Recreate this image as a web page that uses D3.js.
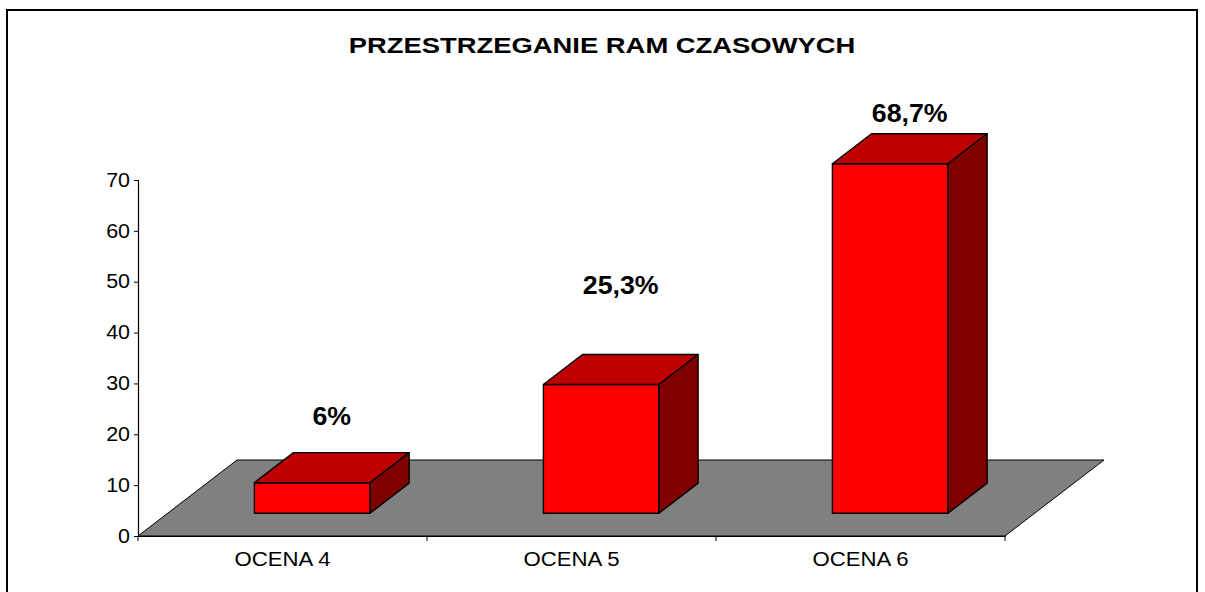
<!DOCTYPE html>
<html>
<head>
<meta charset="utf-8">
<script src="https://cdn.jsdelivr.net/npm/d3@7"></script>
<style>
  html, body { margin: 0; padding: 0; background: #fff; }
  svg { display: block; font-family: "Liberation Sans", Arial, sans-serif; }
</style>
</head>
<body>
<svg id="chart" width="1205" height="592"></svg>
<script>
// ---- data ----
const title = "PRZESTRZEGANIE RAM CZASOWYCH";
const categories = ["OCENA 4", "OCENA 5", "OCENA 6"];
const values = [6, 25.3, 68.7];
const valueLabels = ["6%", "25,3%", "68,7%"];
const yTicks = [0, 10, 20, 30, 40, 50, 60, 70];

// ---- layout (style constants) ----
const plot = { left: 138, right: 1005, top: 180, bottom: 536 };
const depth = { dx: 99, dy: -76 };          // floor depth vector
const barDepth = [0.30, 0.695];            // bar front / back depth fractions
const barFrac = [0.30, 0.70];              // bar span within band
const labelLift = [28, 61, 12];            // label baseline above bar back-top

const svg = d3.select("#chart");

// stretch text horizontally (reference glyphs are wider than tall)
function stretch(sel, sx) {
  sel.each(function () {
    const len = this.getComputedTextLength();
    d3.select(this).attr("textLength", len * sx).attr("lengthAdjust", "spacingAndGlyphs");
  });
}

// chart border
svg.append("rect")
  .attr("x", 7).attr("y", 10).attr("width", 1190).attr("height", 620)
  .attr("fill", "#fff").attr("stroke", "#000").attr("stroke-width", 2);

const x = d3.scaleBand().domain(categories).range([plot.left, plot.right]).padding(0);
const y = d3.scaleLinear().domain([0, 70]).range([plot.bottom, plot.top]);

// title
svg.append("text")
  .attr("x", 602).attr("y", 52.5)
  .attr("text-anchor", "middle")
  .attr("font-weight", "bold").attr("font-size", 22)
  .text(title)
  .call(stretch, 1.245);

// floor
const y0 = y(0);
svg.append("polygon")
  .attr("points", [
    [plot.left, y0],
    [plot.right, y0],
    [plot.right + depth.dx, y0 + depth.dy],
    [plot.left + depth.dx, y0 + depth.dy]
  ].map(p => p.join(",")).join(" "))
  .attr("fill", "#808080").attr("stroke", "#000").attr("stroke-width", 1);

// y axis
const yAxis = d3.axisLeft(y).tickValues(yTicks).tickSize(4).tickPadding(4);
const gy = svg.append("g").attr("transform", `translate(${plot.left},0)`).call(yAxis);
gy.select(".domain").attr("stroke", "#000").attr("stroke-width", 1.2);
gy.selectAll(".tick line").attr("stroke", "#000");
gy.selectAll(".tick text").attr("font-size", 19.5).attr("fill", "#000")
  .attr("font-family", "'Liberation Sans', Arial, sans-serif")
  .call(stretch, 1.1);

// x axis
const xAxis = d3.axisBottom(x).tickSize(0).tickPadding(15);
const gx = svg.append("g").attr("transform", `translate(0,${y0})`).call(xAxis);
gx.select(".domain").attr("stroke", "#000").attr("stroke-width", 1.2);
gx.selectAll(".tick text").attr("font-size", 20.5).attr("fill", "#000")
  .attr("font-family", "'Liberation Sans', Arial, sans-serif")
  .call(stretch, 1.08);
// category separator ticks
const sepTicks = categories.map(c => x(c)).concat([x(categories[categories.length - 1]) + x.bandwidth()]);
gx.selectAll("line.sep").data(sepTicks).enter().append("line")
  .attr("class", "sep")
  .attr("x1", d => d).attr("x2", d => d)
  .attr("y1", 0).attr("y2", 5)
  .attr("stroke", "#000").attr("stroke-width", 1);

// bars
const bw = x.bandwidth();
const fdx = barDepth[0] * depth.dx, fdy = barDepth[0] * depth.dy;
const bdx = (barDepth[1] - barDepth[0]) * depth.dx, bdy = (barDepth[1] - barDepth[0]) * depth.dy;
const gBars = svg.append("g");
const pts = a => a.map(p => p.join(",")).join(" ");
categories.forEach((c, i) => {
  const xl = x(c) + barFrac[0] * bw + fdx;
  const xr = x(c) + barFrac[1] * bw + fdx;
  const yb = y(0) + fdy;
  const yt = y(values[i]) + fdy;
  const g = gBars.append("g");
  g.append("polygon").attr("points", pts([[xl, yb], [xr, yb], [xr, yt], [xl, yt]]))
    .attr("fill", "#ff0000").attr("stroke", "#000").attr("stroke-width", 1.4).attr("stroke-linejoin", "round");
  g.append("polygon").attr("points", pts([[xl, yt], [xr, yt], [xr + bdx, yt + bdy], [xl + bdx, yt + bdy]]))
    .attr("fill", "#bf0000").attr("stroke", "#000").attr("stroke-width", 1.4).attr("stroke-linejoin", "round");
  g.append("polygon").attr("points", pts([[xr, yb], [xr + bdx, yb + bdy], [xr + bdx, yt + bdy], [xr, yt]]))
    .attr("fill", "#800000").attr("stroke", "#000").attr("stroke-width", 1.4).attr("stroke-linejoin", "round");
  // value label
  svg.append("text")
    .attr("x", (xl + xr) / 2 + bdx / 2)
    .attr("y", yt + bdy - labelLift[i])
    .attr("text-anchor", "middle")
    .attr("font-weight", "bold").attr("font-size", 25)
    .text(valueLabels[i])
    .call(stretch, 1.07);
});
</script>
</body>
</html>
